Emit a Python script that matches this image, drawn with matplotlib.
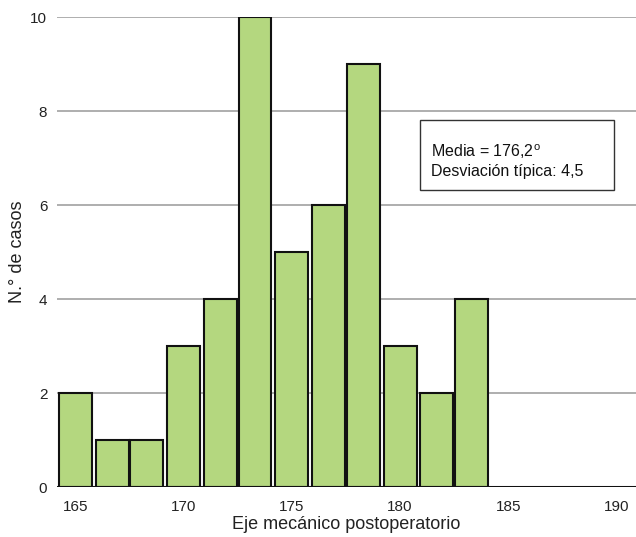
import matplotlib
matplotlib.use('Agg')
import matplotlib.pyplot as plt
from matplotlib.patches import Rectangle

plt.rcParams['font.family'] = ['Liberation Sans', 'DejaVu Sans']
plt.rcParams['mathtext.fontset'] = 'custom'
plt.rcParams['mathtext.rm'] = 'Liberation Sans'

# Histogram bins (centre of each bin) and number of cases
bin_centers = [165.0, 166.7, 168.3, 170.0, 171.7, 173.3,
               175.0, 176.7, 178.3, 180.0, 181.7, 183.3]
casos = [2, 1, 1, 3, 4, 10, 5, 6, 9, 3, 2, 4]

x_ticks = [165, 170, 175, 180, 185, 190]
y_ticks = [0, 2, 4, 6, 8, 10]

media_txt = 'Media = 176,2$^{\\mathrm{o}}$'
desv_txt = 'Desviación típica: 4,5'

fig = plt.figure(figsize=(6.36, 5.37), dpi=100)
ax = fig.add_axes([0.0896, 0.0931, 0.9104, 0.8752])

# grid lines behind the bars
for y in y_ticks[1:]:
    ax.axhline(y, color='#a8a8a8', lw=1.3, zorder=0)

ax.bar(bin_centers, casos, width=1.52, color='#b4d77f',
       edgecolor='#111111', linewidth=1.5, zorder=2)

ax.axhline(0, color='#111111', lw=2.2, zorder=3)

ax.set_xlim(164.15, 190.9)
ax.set_ylim(0, 10)
ax.set_xticks(x_ticks)
ax.set_yticks(y_ticks)
ax.tick_params(length=0, labelsize=11, colors='#222222')
ax.tick_params(axis='x', pad=9)
ax.tick_params(axis='y', pad=7)
for s in ax.spines.values():
    s.set_visible(False)

ax.set_xlabel('Eje mecánico postoperatorio', fontsize=13, color='#222222', labelpad=2)
ax.set_ylabel('N.° de casos', fontsize=13, color='#222222', labelpad=3)

# stats box
ax.add_patch(Rectangle((180.93, 6.32), 8.97, 1.49, facecolor='white',
                       edgecolor='#333333', lw=1.0, zorder=4, clip_on=False))
ax.text(181.45, 7.14, media_txt, fontsize=11.5, va='center', color='#111111', zorder=5)
ax.text(181.45, 6.71, desv_txt, fontsize=11.5, va='center', color='#111111', zorder=5)

fig.savefig('out.png', dpi=100)
